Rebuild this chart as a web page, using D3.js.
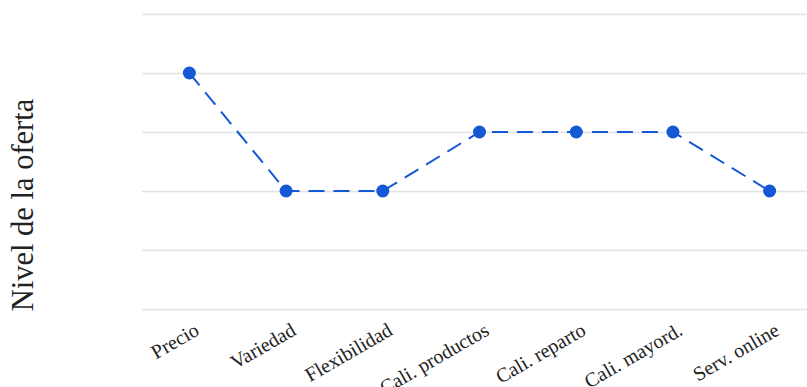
<!DOCTYPE html>
<html>
<head>
<meta charset="utf-8">
<script src="https://cdn.jsdelivr.net/npm/d3@7"></script>
<style>
  html, body { margin: 0; padding: 0; background: #fff; }
  svg { display: block; }
</style>
</head>
<body>
<svg id="chart" width="807" height="387"></svg>
<script>
// Offer level per aspect
const categories = ["Precio", "Variedad", "Flexibilidad", "Cali. productos", "Cali. reparto", "Cali. mayord.", "Serv. online"];
const values = [4, 2, 2, 3, 3, 3, 2];
const yTicks = [0, 1, 2, 3, 4, 5];

(function () {
  const svg = d3.select("#chart");
  const W = 807;
  const plotLeft = 141, plotTop = 14, plotBottom = 309;

  const x = d3.scaleBand().domain(categories).range([plotLeft, 818]);
  const y = d3.scaleLinear().domain([0, 5]).range([plotBottom, plotTop]);
  const cx = d => x(d) + x.bandwidth() / 2;

  // horizontal gridlines
  svg.append("g").selectAll("line")
    .data(yTicks)
    .join("line")
    .attr("x1", plotLeft + 1).attr("x2", W)
    .attr("y1", d => Math.round(y(d)) + 0.5).attr("y2", d => Math.round(y(d)) + 0.5)
    .attr("stroke", "#e2e2e2").attr("stroke-width", 1.5);

  // category labels, slanted
  svg.append("g").selectAll("text")
    .data(categories)
    .join("text")
    .attr("transform", d => `translate(${cx(d) + 11},${334}) rotate(-30)`)
    .attr("text-anchor", "end")
    .attr("font-family", "Liberation Serif, Times New Roman, serif")
    .attr("font-size", 20)
    .attr("fill", "#222")
    .text(d => d);

  // y-axis title
  svg.append("text")
    .attr("transform", `translate(33,205) rotate(-90)`)
    .attr("text-anchor", "middle")
    .attr("font-family", "Liberation Serif, Times New Roman, serif")
    .attr("font-size", 30.5)
    .attr("fill", "#222")
    .text("Nivel de la oferta");

  const data = categories.map((c, i) => ({ c, v: values[i] }));
  const color = "#1558d6";

  svg.append("path")
    .datum(data)
    .attr("fill", "none")
    .attr("stroke", color)
    .attr("stroke-width", 2)
    .attr("stroke-dasharray", "16,9")
    .attr("d", d3.line().x(d => cx(d.c)).y(d => y(d.v)));

  svg.append("g").selectAll("circle")
    .data(data)
    .join("circle")
    .attr("cx", d => cx(d.c))
    .attr("cy", d => y(d.v))
    .attr("r", 6.5)
    .attr("fill", color);
})();
</script>
</body>
</html>
